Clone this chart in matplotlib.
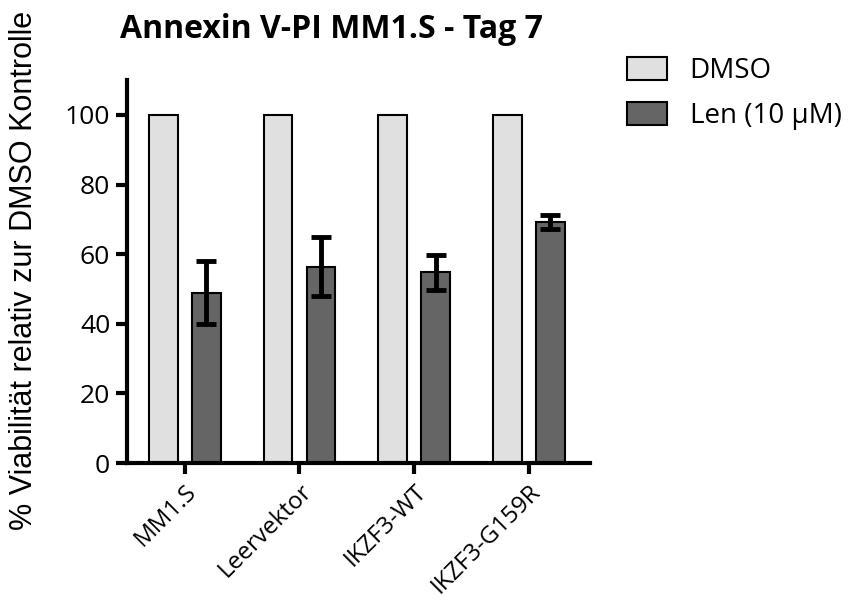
import matplotlib
matplotlib.use("Agg")
import matplotlib.pyplot as plt
import numpy as np
from matplotlib.patches import Patch

# Data
categories = ["MM1.S", "Leervektor", "IKZF3-WT", "IKZF3-G159R"]
dmso = [100, 100, 100, 100]
len_mean = [48.9, 56.4, 54.8, 69.3]
len_err = [9.0, 8.4, 5.0, 2.1]

plt.rcParams['font.family'] = ['Open Sans', 'DejaVu Sans']

fig = plt.figure(figsize=(8.51, 6.01), dpi=100)
ax = fig.add_axes([0.149, 0.2296, 0.544, 0.637])

x = np.arange(len(categories))
w = 0.25
off = 0.187
ax.bar(x - off, dmso, w, color="#e0e0e0", edgecolor="black", linewidth=1.5, zorder=2)
ax.bar(x + off, len_mean, w, color="#656565", edgecolor="black", linewidth=1.5, zorder=2)
ax.errorbar(x + off, len_mean, yerr=len_err, fmt="none", ecolor="black",
            elinewidth=3.5, capsize=7, capthick=3.5, zorder=3)

ax.set_xlim(-0.505, 3.53)
ax.set_ylim(0, 110)
ax.set_yticks([0, 20, 40, 60, 80, 100])
ax.set_xticks(x)
ax.set_xticklabels(categories, rotation=45, ha="right", rotation_mode="anchor")

for s in ["top", "right"]:
    ax.spines[s].set_visible(False)
for s in ["left", "bottom"]:
    ax.spines[s].set_linewidth(3)
ax.tick_params(axis="both", width=3, length=8)
ax.tick_params(axis="y", labelsize=19, pad=4)
ax.tick_params(axis="x", labelsize=17.5, pad=4)

fig.text(24 / 851, 1 - 270 / 601, "% Viabilität relativ zur DMSO Kontrolle",
         fontsize=22, family=["Liberation Sans", "DejaVu Sans"],
         rotation=90, ha="center", va="center")
fig.text(331 / 851, 1 - 30 / 601, "Annexin V-PI MM1.S - Tag 7", fontsize=23,
         fontweight="bold", ha="center", va="center")

handles = [Patch(facecolor="#e0e0e0", edgecolor="black", linewidth=1.5, label="DMSO"),
           Patch(facecolor="#656565", edgecolor="black", linewidth=1.5, label="Len (10 µM)")]
fig.legend(handles=handles, loc="upper left", bbox_to_anchor=(627 / 851, 1 - 57 / 601),
           frameon=False, fontsize=20, handlelength=1.45, handleheight=0.9,
           handletextpad=0.8, labelspacing=0.6, borderpad=0, borderaxespad=0)

fig.savefig("out.png", dpi=100)
